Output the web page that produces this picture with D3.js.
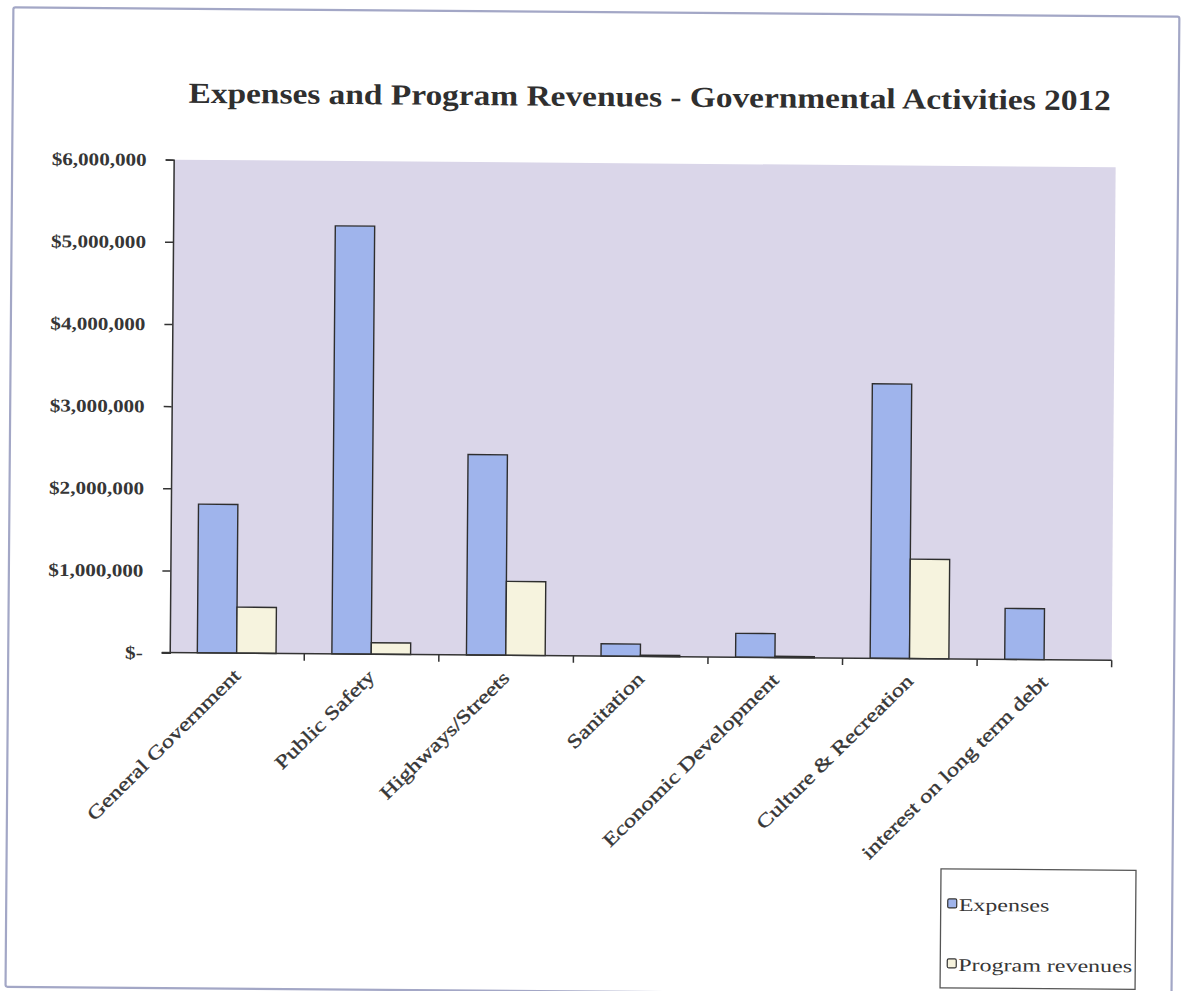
<!DOCTYPE html>
<html>
<head>
<meta charset="utf-8">
<script src="https://cdn.jsdelivr.net/npm/d3@7"></script>
<style>
  html, body { margin: 0; padding: 0; background: #ffffff; }
  svg { display: block; }
</style>
</head>
<body>
<svg id="chart" width="1181" height="991"></svg>
<script>
// Governmental activities, fiscal 2012
const categories = [
  "General Government",
  "Public Safety",
  "Highways/Streets",
  "Sanitation",
  "Economic Development",
  "Culture & Recreation",
  "interest on long term debt"
];
const expenses = [1810000, 5210000, 2440000, 150000, 290000, 3340000, 620000];
const programRevenues = [560000, 140000, 900000, 15000, 15000, 1210000, 0];
const seriesNames = ["Expenses", "Program revenues"];
const yTickValues = [0, 1000000, 2000000, 3000000, 4000000, 5000000, 6000000];
const yTickLabels = ["$-", "$1,000,000", "$2,000,000", "$3,000,000", "$4,000,000", "$5,000,000", "$6,000,000"];
const titleText = "Expenses and Program Revenues - Governmental Activities 2012";

const W = 1181, H = 991;
const serif = "'Liberation Serif', 'DejaVu Serif', serif";
const ink = "#363636";
const colors = { "Expenses": "#9fb4ec", "Program revenues": "#f6f3de" };

const svg = d3.select("#chart");
// the whole sheet sits at a slight tilt
const root = svg.append("g").attr("transform", `rotate(0.46, ${W / 2}, ${H / 2})`);

// horizontal stretch that makes a sample string span a given width at a given size
function stretchFor(sample, weight, size, target) {
  const t = root.append("text").attr("font-family", serif).attr("font-weight", weight)
    .attr("font-size", size).text(sample);
  const w = t.node().getComputedTextLength();
  t.remove();
  return target / w;
}

// outer frame
root.append("rect")
  .attr("x", 9.5).attr("y", 12).attr("width", 1166).attr("height", 979.5)
  .attr("fill", "none").attr("stroke", "#a3a7c6").attr("stroke-width", 2.2).attr("rx", 2);

const plot = { left: 171, right: 1113, top: 163, bottom: 656 };

const x0 = d3.scaleBand().domain(categories).range([plot.left, plot.right]).paddingInner(0).paddingOuter(0);
const x1 = d3.scaleBand().domain(seriesNames)
  .range([x0.bandwidth() * 0.205, x0.bandwidth() * 0.79]).padding(0);
const y = d3.scaleLinear().domain([0, 6000000]).range([plot.bottom, plot.top]);

// plot background
root.append("rect")
  .attr("x", plot.left).attr("y", plot.top)
  .attr("width", plot.right - plot.left).attr("height", plot.bottom - plot.top)
  .attr("fill", "#dad6e9");

// bars
const rows = categories.map((c, i) => ({ cat: c, vals: [
  { key: "Expenses", v: expenses[i] },
  { key: "Program revenues", v: programRevenues[i] }
] }));

const groups = root.append("g").selectAll("g").data(rows).join("g")
  .attr("transform", d => `translate(${x0(d.cat)},0)`);
groups.selectAll("rect").data(d => d.vals.filter(e => e.v > 0)).join("rect")
  .attr("x", d => x1(d.key))
  .attr("width", x1.bandwidth())
  .attr("y", d => y(d.v))
  .attr("height", d => y(0) - y(d.v))
  .attr("fill", d => colors[d.key])
  .attr("stroke", "#2e2e2e")
  .attr("stroke-width", 1.4);

// y axis
const yAxis = d3.axisLeft(y).tickValues(yTickValues).tickFormat("").tickSize(8);
const yg = root.append("g").attr("transform", `translate(${plot.left},0)`).call(yAxis);
yg.select(".domain").attr("stroke", "#333").attr("stroke-width", 1.5);
yg.selectAll(".tick line").attr("stroke", "#333").attr("stroke-width", 1.5);

const ySize = 18;
const yK = stretchFor("$6,000,000", "bold", ySize, 95);
root.append("g").selectAll("g").data(yTickValues).join("g")
  .attr("transform", d => `translate(144,${y(d)}) scale(${yK},1)`)
  .append("text")
  .attr("text-anchor", "end").attr("dy", "0.35em")
  .attr("font-family", serif).attr("font-weight", "bold")
  .attr("font-size", ySize).attr("fill", ink)
  .text((d, i) => yTickLabels[i]);

// x axis: baseline with ticks at category boundaries
const xg = root.append("g");
xg.append("line")
  .attr("x1", plot.left - 8).attr("x2", plot.right)
  .attr("y1", y(0)).attr("y2", y(0))
  .attr("stroke", "#333").attr("stroke-width", 1.5);
const boundaries = categories.map(c => x0(c)).concat([x0(categories[categories.length - 1]) + x0.bandwidth()]);
xg.selectAll("line.tk").data(boundaries.slice(1)).join("line").attr("class", "tk")
  .attr("x1", d => d).attr("x2", d => d)
  .attr("y1", y(0)).attr("y2", y(0) + 7)
  .attr("stroke", "#333").attr("stroke-width", 1.5);

const catSize = 19;
const catK = stretchFor("Economic Development", "normal", catSize, 238);
xg.selectAll("g.lab").data(categories).join("g").attr("class", "lab")
  .attr("transform", d => `translate(${x0(d) + x0.bandwidth() / 2},${y(0) + 19}) rotate(-45) scale(${catK},1)`)
  .append("text")
  .attr("text-anchor", "end")
  .attr("dy", "0.35em")
  .attr("font-family", serif)
  .attr("font-size", catSize).attr("fill", ink)
  .attr("stroke", ink).attr("stroke-width", 0.35)
  .text(d => d);

// title
const titleSize = 29;
const titleK = stretchFor(titleText, "bold", titleSize, 923);
root.append("g")
  .attr("transform", `translate(646.5,106) scale(${titleK},1)`)
  .append("text")
  .attr("text-anchor", "middle")
  .attr("font-family", serif).attr("font-weight", "bold")
  .attr("font-size", titleSize).attr("fill", "#2f2f2f")
  .text(titleText);

// legend
const legend = root.append("g");
legend.append("rect")
  .attr("x", 944).attr("y", 866).attr("width", 195).attr("height", 119)
  .attr("fill", "#ffffff").attr("stroke", "#555").attr("stroke-width", 1.3);
const legSize = 18;
const legK = stretchFor("Program revenues", "normal", legSize, 174);
const legY = [908, 968];
seriesNames.forEach((name, i) => {
  legend.append("rect")
    .attr("x", 951).attr("y", legY[i] - 12).attr("width", 9).attr("height", 9).attr("rx", 1.5)
    .attr("fill", colors[name]).attr("stroke", "#333").attr("stroke-width", 1.2);
  legend.append("g")
    .attr("transform", `translate(962,${legY[i]}) scale(${legK},1)`)
    .append("text")
    .attr("font-family", serif).attr("font-size", legSize).attr("fill", ink)
    .text(name);
});
</script>
</body>
</html>
